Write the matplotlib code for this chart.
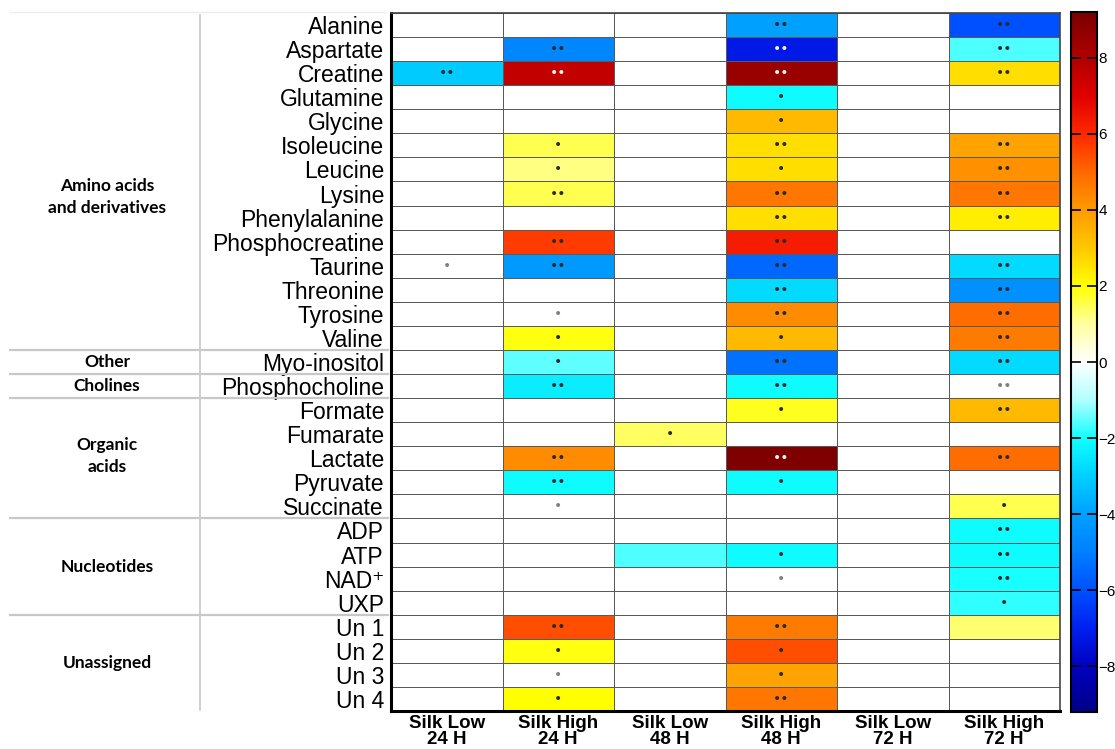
import numpy as np
import matplotlib
matplotlib.use("Agg")
import matplotlib.pyplot as plt
from matplotlib.colors import LinearSegmentedColormap, Normalize

metabolites = ["Alanine", "Aspartate", "Creatine", "Glutamine", "Glycine", "Isoleucine",
               "Leucine", "Lysine", "Phenylalanine", "Phosphocreatine", "Taurine", "Threonine",
               "Tyrosine", "Valine", "Myo-inositol", "Phosphocholine", "Formate", "Fumarate",
               "Lactate", "Pyruvate", "Succinate", "ADP", "ATP", "NAD\u207a", "UXP",
               "Un 1", "Un 2", "Un 3", "Un 4"]
conditions = ["Silk Low\n24 H", "Silk High\n24 H", "Silk Low\n48 H",
              "Silk High\n48 H", "Silk Low\n72 H", "Silk High\n72 H"]

# columns: SL24, SH24, SL48, SH48, SL72, SH72
sl24 = [0, 0, -3.1, 0, 0, 0, 0, 0, 0, 0, 0, 0, 0, 0, 0, 0, 0, 0, 0, 0, 0, 0, 0, 0, 0, 0, 0, 0, 0]
sh24 = [0, -4.8, 7.6, 0, 0, 1.5, 1.2, 1.5, 0, 5.7, -4.2, 0, 0, 1.9, -1.5, -2.4, 0, 0, 4.3, -2.1,
        0, 0, 0, 0, 0, 5.4, 1.9, 0, 2.0]
sl48 = [0, 0, 0, 0, 0, 0, 0, 0, 0, 0, 0, 0, 0, 0, 0, 0, 0, 1.4, 0, 0, 0, 0, -1.6, 0, 0, 0, 0, 0, 0]
sh48 = [-4.0, -7.2, 8.5, -2.1, 3.3, 2.6, 2.6, 4.7, 2.6, 6.3, -5.5, -2.8, 4.3, 3.3, -5.3, -2.1,
        1.8, 0, 9.1, -2.1, 0, 0, -2.1, 0, 0, 4.6, 5.4, 3.8, 4.7]
sl72 = [0] * 29
sh72 = [-6.0, -1.6, 2.6, 0, 0, 3.8, 4.2, 4.7, 2.3, 0, -2.8, -4.5, 4.9, 4.6, -2.8, 0, 3.3, 0, 4.9,
        0, 1.5, -2.05, -2.05, -1.95, -1.8, 1.3, 0, 0, 0]

sig_sl24 = ["", "", "**", "", "", "", "", "", "", "", "*", "", "", "", "", "", "", "", "", "",
            "", "", "", "", "", "", "", "", ""]
sig_sh24 = ["", "**", "**", "", "", "*", "*", "**", "", "**", "**", "", "*", "*", "*", "**", "",
            "", "**", "**", "*", "", "", "", "", "**", "*", "*", "*"]
sig_sl48 = ["", "", "", "", "", "", "", "", "", "", "", "", "", "", "", "", "", "*", "", "", "",
            "", "", "", "", "", "", "", ""]
sig_sh48 = ["**", "**", "**", "*", "*", "**", "*", "**", "**", "**", "**", "**", "**", "*", "**",
            "**", "*", "", "**", "*", "", "", "*", "*", "", "**", "*", "*", "**"]
sig_sl72 = [""] * 29
sig_sh72 = ["**", "**", "**", "", "", "**", "**", "**", "**", "", "**", "**", "**", "**", "**",
            "**", "**", "", "**", "", "*", "**", "**", "**", "*", "", "", "", ""]

groups = ["Amino acids\nand derivatives", "Other", "Cholines", "Organic\nacids",
          "Nucleotides", "Unassigned"]
group_sizes = [14, 1, 1, 5, 4, 4]

values = np.array([sl24, sh24, sl48, sh48, sl72, sh72], dtype=float).T
sigs = np.array([sig_sl24, sig_sh24, sig_sl48, sig_sh48, sig_sl72, sig_sh72]).T

anchors = [(-9.2, "#000088"), (-8, "#0000c0"), (-7, "#0020f0"), (-6, "#0050ff"),
           (-5, "#0080ff"), (-4, "#00a0ff"), (-3, "#00d0ff"), (-2, "#10ffff"),
           (-1, "#b0ffff"), (0, "#ffffff"), (1, "#ffffa0"), (2, "#ffff00"),
           (3, "#ffc800"), (4, "#ff9a00"), (5, "#ff6800"), (6, "#ff2800"),
           (7, "#e00000"), (8, "#b00000"), (9.2, "#7a0000")]
vmin, vmax = -9.2, 9.2
cmap = LinearSegmentedColormap.from_list(
    "silk", [((v - vmin) / (vmax - vmin), c) for v, c in anchors], N=1024)
cmap.set_bad("white")
norm = Normalize(vmin=vmin, vmax=vmax)

W, H = 1115, 749
fig = plt.figure(figsize=(W / 100, H / 100), dpi=100)
fig.patch.set_facecolor("white")

def fx(px):
    return px / W

def fy(py):
    return 1 - py / H

hx0, hx1, hy0, hy1 = 391, 1060, 13, 711
ax = fig.add_axes([fx(hx0), fy(hy1), fx(hx1 - hx0), (hy1 - hy0) / H])
nr, nc = values.shape
ax.pcolormesh(np.arange(nc + 1), np.arange(nr + 1), np.ma.masked_equal(values, 0),
              cmap=cmap, norm=norm, edgecolor="#5a5a5a", linewidth=0.6)
ax.set_facecolor("white")
for k in range(1, nr):
    ax.axhline(k, color="#5a5a5a", lw=0.6, zorder=0.5)
for k in range(1, nc):
    ax.axvline(k, color="#5a5a5a", lw=0.6, zorder=0.5)
ax.set_xlim(0, nc)
ax.set_ylim(nr, 0)

for i in range(nr):
    for j in range(nc):
        s = sigs[i, j]
        if not s:
            continue
        v = values[i, j]
        if v == 0:
            col = "#808080"
        elif abs(v) > 7:
            col = "#f4f4f4"
        else:
            col = "#2a2a2a"
        txt = "\u2022" * len(s)
        ax.text(j + 0.5, i + 0.5, txt, ha="center", va="center", fontsize=10,
                color=col, family="DejaVu Sans")

ax.set_yticks(np.arange(nr) + 0.5)
ax.set_yticklabels(metabolites, family=["Liberation Sans", "DejaVu Sans"], fontsize=16.5)
ax.tick_params(axis="y", length=0, pad=5)
ax.set_xticks(np.arange(nc) + 0.5)
ax.set_xticklabels(conditions, family="Liberation Sans", fontsize=13.5, fontweight="bold",
                   linespacing=0.88)
ax.tick_params(axis="x", length=0, pad=3)
for side in ["left", "bottom"]:
    ax.spines[side].set_linewidth(2.2)
    ax.spines[side].set_color("black")
for side in ["top", "right"]:
    ax.spines[side].set_linewidth(1.2)
    ax.spines[side].set_color("#444444")

# left grouping table
lax = fig.add_axes([0, 0, 1, 1], facecolor="none")
lax.set_xlim(0, W)
lax.set_ylim(H, 0)
lax.axis("off")
row_h = (hy1 - hy0) / nr
lax.plot([200, 200], [15, 710], color="#c8c8c8", lw=1.2)
lax.plot([10, 385], [12, 12], color="#ececec", lw=1.0)
start = 0
label_y = [197, None, None, 456, None, None]
for gi, (g, n) in enumerate(zip(groups, group_sizes)):
    end = start + n
    ycenter = hy0 + (start + end) / 2 * row_h
    if label_y[gi] is not None:
        ycenter = label_y[gi]
    lax.text(107, ycenter, g, ha="center", va="center", fontsize=12.5, fontweight="bold",
             family="Lato", linespacing=1.4)
    if end < nr:
        yb = hy0 + end * row_h
        lax.plot([10, 388], [yb, yb], color="#c8c8c8", lw=1.6)
    start = end

# colorbar
cax = fig.add_axes([fx(1071), fy(712), fx(26), 700 / H])
cb = fig.colorbar(plt.cm.ScalarMappable(norm=norm, cmap=cmap), cax=cax)
cb.set_ticks([-8, -6, -4, -2, 0, 2, 4, 6, 8])
cb.ax.tick_params(direction="in", length=7, width=1.2, left=True, right=True,
                  labelsize=11, pad=1, colors="black")
for t in cb.ax.get_yticklabels():
    t.set_family("Liberation Sans")
cb.outline.set_linewidth(1.5)

fig.savefig("out.png", dpi=100)
